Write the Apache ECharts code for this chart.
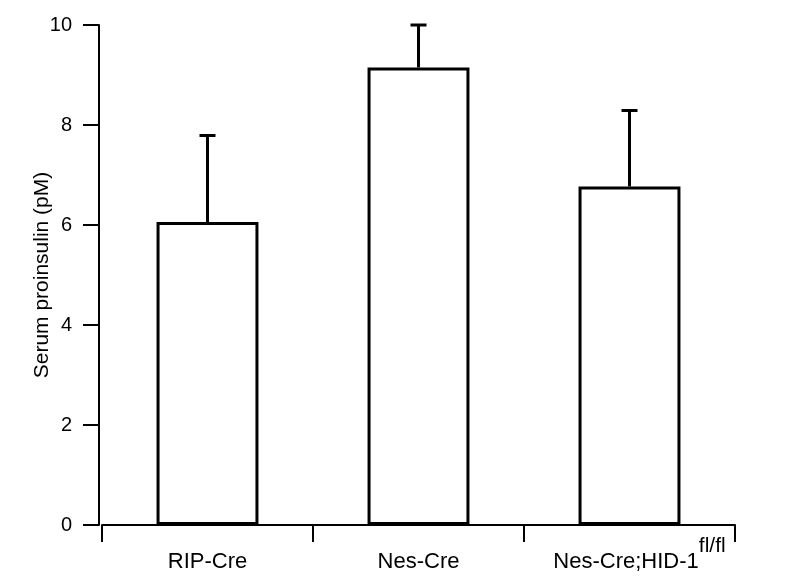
<!DOCTYPE html>
<html>
<head>
<meta charset="utf-8">
<script src="https://cdn.jsdelivr.net/npm/echarts@6/dist/echarts.min.js"></script>
<style>html,body{margin:0;padding:0;background:#fff;}#c{width:787px;height:585px;}</style>
</head>
<body>
<div id="c"></div>
<script>
const categories = ['RIP-Cre', 'Nes-Cre', 'Nes-Cre;HID-1'];
const superscripts = ['', '', 'fl/fl'];
const means = [6.06, 9.15, 6.77];
const errors = [1.73, 0.85, 1.52];
const yTicks = [0, 2, 4, 6, 8, 10];

const FONT = "'Liberation Sans', Arial, sans-serif";
const chart = echarts.init(document.getElementById('c'), null, {renderer: 'canvas'});

chart.setOption({
  animation: false,
  backgroundColor: '#fff',
  grid: {left: 102, right: 52, top: 25, bottom: 60, containLabel: false, outerBoundsMode: 'none'},
  xAxis: {
    type: 'category',
    data: categories,
    offset: 2,
    axisLine: {lineStyle: {color: '#000', width: 2}},
    axisTick: {show: true, length: 17, alignWithLabel: false, lineStyle: {color: '#000', width: 2}},
    axisLabel: {
      color: '#000', fontFamily: FONT, fontSize: 22, margin: 24, interval: 0,
      formatter: function (v, i) {
        return superscripts[i] ? '{s|' + v + '}{sup|' + superscripts[i] + '}' : '{b|' + v + '}';
      },
      rich: {
        b: {fontFamily: FONT, fontSize: 22, color: '#000'},
        s: {fontFamily: FONT, fontSize: 22, color: '#000', padding: [0, 0, 0, 20]},
        sup: {fontFamily: FONT, fontSize: 21, color: '#000', lineHeight: 18, padding: [0, 0, 32, 0]}
      }
    },
    splitLine: {show: false}
  },
  yAxis: {
    type: 'value',
    min: yTicks[0],
    max: yTicks[yTicks.length - 1],
    interval: 2,
    offset: 3,
    name: 'Serum proinsulin (pM)',
    nameLocation: 'middle',
    nameGap: 46,
    nameMoveOverlap: false,
    nameTextStyle: {color: '#000', fontFamily: FONT, fontSize: 21},
    axisLine: {show: true, lineStyle: {color: '#000', width: 2}},
    axisTick: {show: true, length: 16, lineStyle: {color: '#000', width: 2}},
    axisLabel: {color: '#000', fontFamily: FONT, fontSize: 20, margin: 27},
    splitLine: {show: false}
  },
  series: [
    {
      type: 'bar',
      data: means,
      barWidth: '48.3%',
      itemStyle: {color: '#fff', borderColor: '#000', borderWidth: 3},
      z: 2
    },
    {
      type: 'custom',
      data: means.map((m, i) => [i, m, m + errors[i]]),
      z: 3,
      renderItem: function (params, api) {
        const x = api.value(0);
        const lo = api.coord([x, api.value(1)]);
        const hi = api.coord([x, api.value(2)]);
        const half = 8;
        return {
          type: 'group',
          children: [
            {type: 'line', shape: {x1: lo[0], y1: lo[1], x2: hi[0], y2: hi[1]}, style: {stroke: '#000', lineWidth: 3}},
            {type: 'line', shape: {x1: hi[0] - half, y1: hi[1], x2: hi[0] + half, y2: hi[1]}, style: {stroke: '#000', lineWidth: 3}}
          ]
        };
      }
    }
  ]
});
</script>
</body>
</html>
